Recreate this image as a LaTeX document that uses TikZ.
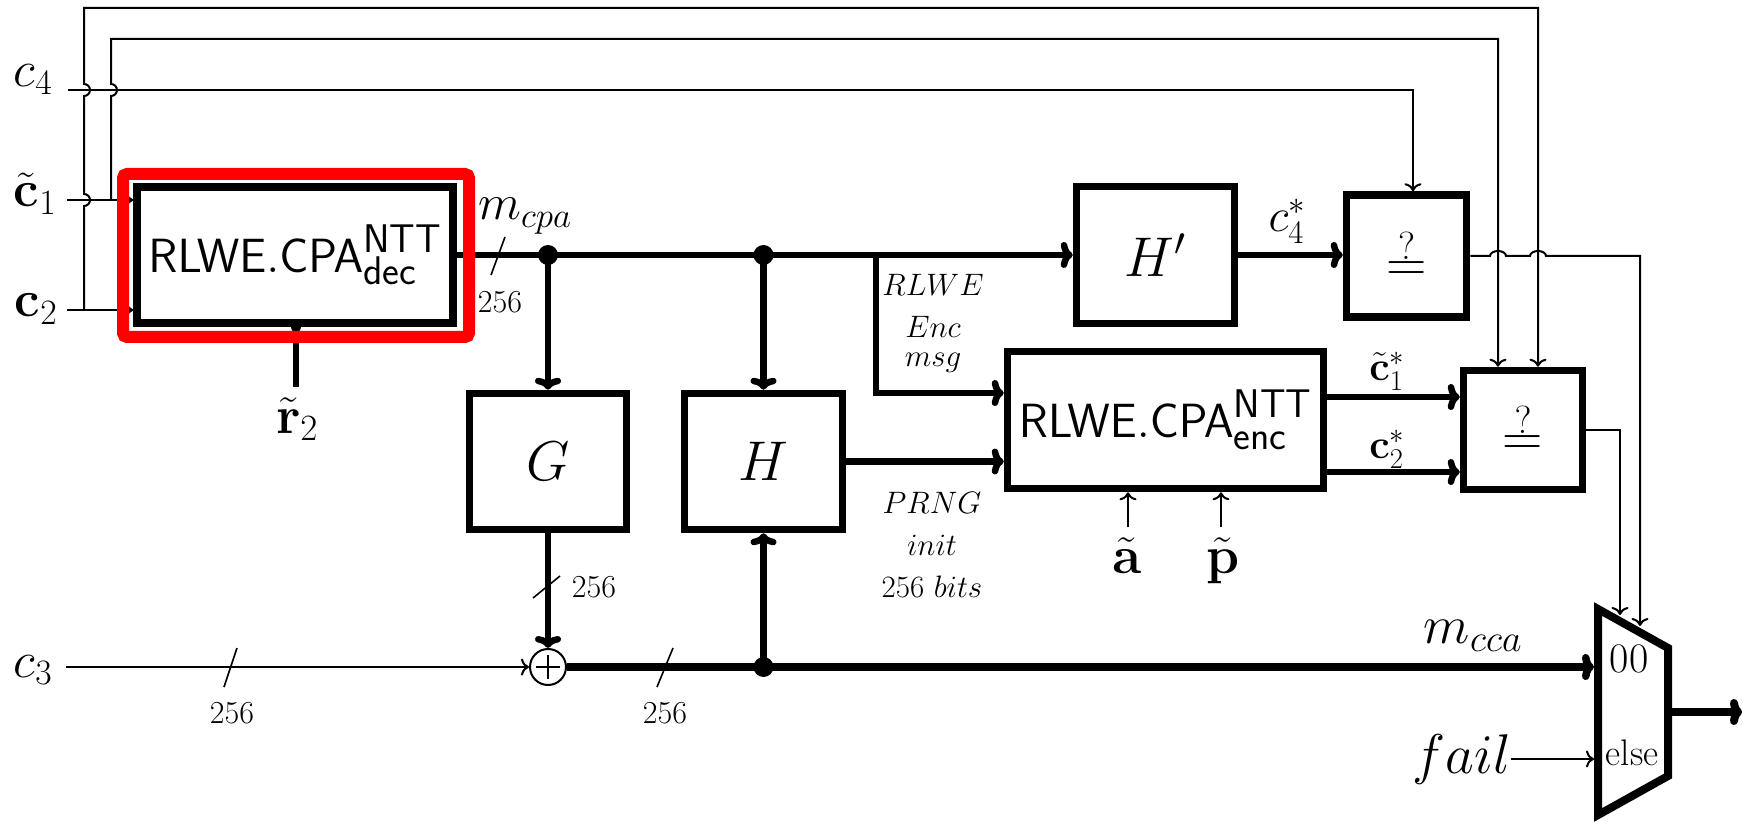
\RequirePackage{fix-cm}
\documentclass[tikz,border=0pt]{standalone}
\usetikzlibrary{arrows.meta,calc}
\newcommand{\cpatxt}[1]{\fontsize{48}{54}\selectfont$\mathsf{RLWE.CPA}^{\mbox{\fontsize{40}{44}\selectfont\sffamily NTT}}_{\mbox{\fontsize{40}{44}\selectfont\sffamily #1}}$}
\begin{document}
\begin{tikzpicture}[x=1pt,y=-1pt,
  blk/.style={draw, line width=7.5pt, inner sep=0pt, font=\fontsize{56}{62}\selectfont},
  tl/.style={line width=2pt},
  tk/.style={line width=6.5pt},
  tarr/.style={tl,-{To[length=8pt,width=17pt]}},
  karr/.style={tk,-{To[length=12pt,width=26pt]}},
  lab/.style={inner sep=0pt, anchor=base, font=\fontsize{51}{56}\selectfont},
  num/.style={inner sep=0pt, font=\fontsize{32}{36}\selectfont},
  note/.style={inner sep=0pt, font=\fontsize{31}{36}\selectfont},
  jdot/.style={circle, fill, inner sep=0pt, minimum size=20pt},
  slash/.style={line width=1.6pt},
]
\useasboundingbox (0,0) rectangle (1746,826);

% blocks
\node[blk, minimum width=316pt, minimum height=136pt] (dec) at (295,255) {\cpatxt{dec}};
\node[blk, minimum width=157pt, minimum height=136pt] (G) at (548,461.5) {$G$};
\node[blk, minimum width=158pt, minimum height=136pt] (H) at (763.5,461.5) {$H$};
\node[blk, minimum width=158pt, minimum height=137pt] (Hp) at (1155.5,255) {$H'$};
\node[blk, minimum width=316pt, minimum height=137pt] (enc) at (1165.5,420) {\cpatxt{enc}};
\node[blk, minimum width=120pt, minimum height=122pt] (q1) at (1406.5,256) {$\stackrel{?}{=}$};
\node[blk, minimum width=119pt, minimum height=119pt] (q2) at (1523,430) {$\stackrel{?}{=}$};
\node[circle, draw, tl, minimum size=36pt, inner sep=0pt] (xor) at (548,667) {};
\draw[tl] ($(xor.center)+(-12,0)$) -- ($(xor.center)+(12,0)$);
\draw[tl] ($(xor.center)+(0,-12)$) -- ($(xor.center)+(0,12)$);

% multiplexer
\draw[line width=8pt, line join=miter] (1598,609) -- (1668,648) -- (1668,776) -- (1598,815) -- cycle;

% labels
\node[lab] (lc4) at (33,87) {$c_4$};
\node[lab] (lc1) at (35,207) {$\tilde{\mathbf{c}}_1$};
\node[lab] (lc2) at (36,317) {$\mathbf{c}_2$};
\node[lab] (lc3) at (33,677) {$c_3$};
\node[lab, font=\fontsize{53}{58}\selectfont] (lr2) at (297,433) {$\tilde{\mathbf{r}}_2$};
\node[lab, font=\fontsize{50}{56}\selectfont] (lmcpa) at (525,220) {$m_{cpa}$};
\node[lab, font=\fontsize{47}{52}\selectfont] (lc4s) at (1287,232) {$c_4^*$};
\node[lab, font=\fontsize{41}{46}\selectfont] (lc1s) at (1387,380) {$\tilde{\mathbf{c}}_1^*$};
\node[lab, font=\fontsize{41}{46}\selectfont] (lc2s) at (1387,458) {$\mathbf{c}_2^*$};
\node[lab, font=\fontsize{53}{58}\selectfont] (la) at (1127,573) {$\tilde{\mathbf{a}}$};
\node[lab, font=\fontsize{53}{58}\selectfont] (lp) at (1223,573) {$\tilde{\mathbf{p}}$};
\node[lab, font=\fontsize{54}{58}\selectfont] (lmcca) at (1473,643) {$m_{cca}$};
\node[lab, font=\fontsize{56}{60}\selectfont] (lfail) at (1462,773) {$fail$};
\node[lab, font=\fontsize{42}{46}\selectfont] (l00) at (1629,672) {00};
\node[lab, font=\fontsize{37}{42}\selectfont] (lelse) at (1632,765) {else};
\node[note] (lrlwe) at (933,285) {$RLWE$};
\node[note] (lenc) at (933,327) {$Enc$};
\node[note] (lmsg) at (933,363) {$msg$};
\node[note] (lprng) at (932,503) {$PRNG$};
\node[note] (linit) at (932,545) {$init$};
\node[note] (lbits) at (932,587) {$256\ bits$};
\node[num] (n1) at (500,302) {256};
\node[num] (n2) at (594,587) {256};
\node[num] (n3) at (232,713) {256};
\node[num] (n4) at (665,713) {256};

% coordinates
\coordinate (s4) at (68,90);
\coordinate (s1) at (67,200);
\coordinate (s2) at (67,310);
\coordinate (s3) at (66,667);
\coordinate (jA) at (84,310);
\coordinate (jB) at (111,200);
\coordinate (tA) at (1538,8);
\coordinate (tB) at (1498,39);
\coordinate (rr) at (296,387);
\coordinate (b1) at (876,255);
\coordinate (aa) at (1128,527);
\coordinate (pp) at (1221,527);
\coordinate (m0) at (1594,667);
\coordinate (mt1) at (1620,615);
\coordinate (mt2) at (1640,626);
\coordinate (mo) at (1672,712);
\coordinate (oe) at (1742,712);

% thin input wiring
\draw[tarr] (s4) -| ([xshift=6.5pt]q1.north);
\draw[tarr] (s1) -- (s1 -| dec.west);
\draw[tarr] (s2) -- (s2 -| dec.west);
\draw[tarr] (jA) -- (84,206) arc[start angle=-90,end angle=90,radius=6pt] -- (84,96) arc[start angle=-90,end angle=90,radius=6pt] |- (tA) -- (tA |- q2.north);
\draw[tarr] (jB) -- (111,96) arc[start angle=-90,end angle=90,radius=6pt] |- (tB) -- (tB |- q2.north);

% main data path
\draw[karr] (dec.east) -- (dec.east -| Hp.west);
\node[jdot] (d1) at (548,255) {};
\node[jdot] (d2) at (763.5,255) {};
\draw[karr] (d1.center) -- (G.north);
\draw[karr] (d2.center) -- (H.north);
\draw[karr] (b1) |- ([yshift=27pt]enc.west);
\draw[karr] (H.east) -- (H.east -| enc.west);
\draw[karr] (Hp.east) -- (Hp.east -| q1.west);
\path ($(enc.east)+(0,-23)$) coordinate (eo1) ($(enc.east)+(0,52)$) coordinate (eo2);
\draw[karr] (eo1) -- (eo1 -| q2.west);
\draw[karr] (eo2) -- (eo2 -| q2.west);
\draw[tarr] (aa) -- (aa |- enc.south);
\draw[tarr] (pp) -- (pp |- enc.south);
\draw[tk, -{To[length=4pt,width=10pt]}] (rr) -- (rr |- dec.south);

% lower path
\draw[karr] (G.south) -- (xor.north);
\draw[tarr] (s3) -- (xor.west);
\draw[line width=7.5pt, -{To[length=12pt,width=26pt]}] (xor.east) -- (m0);
\node[jdot] (d3) at (763.5,667) {};
\draw[karr] (d3.center) -- (H.south);
\draw[tarr] (lfail.east) -- (lfail.east -| m0);

% comparator outputs to the multiplexer
\draw[tarr] (q1.east) -- (1490,256) arc[start angle=180,end angle=0,x radius=8pt,y radius=5pt] -- (1530,256) arc[start angle=180,end angle=0,x radius=8pt,y radius=5pt] -| (mt2);
\draw[tarr] (q2.east) -| (mt1);
\draw[line width=8pt, -{To[length=12pt,width=26pt]}] (mo) -- (oe);

% bus-width slashes
\draw[slash] (491,275) -- (505,237);
\draw[slash] (533,598) -- (560,576);
\draw[slash] (224,687) -- (237,648);
\draw[slash] (657,687) -- (673,648);

% highlight
\draw[red, line width=12pt, rounded corners=4pt] (123,174) rectangle (469,337);
\end{tikzpicture}
\end{document}
